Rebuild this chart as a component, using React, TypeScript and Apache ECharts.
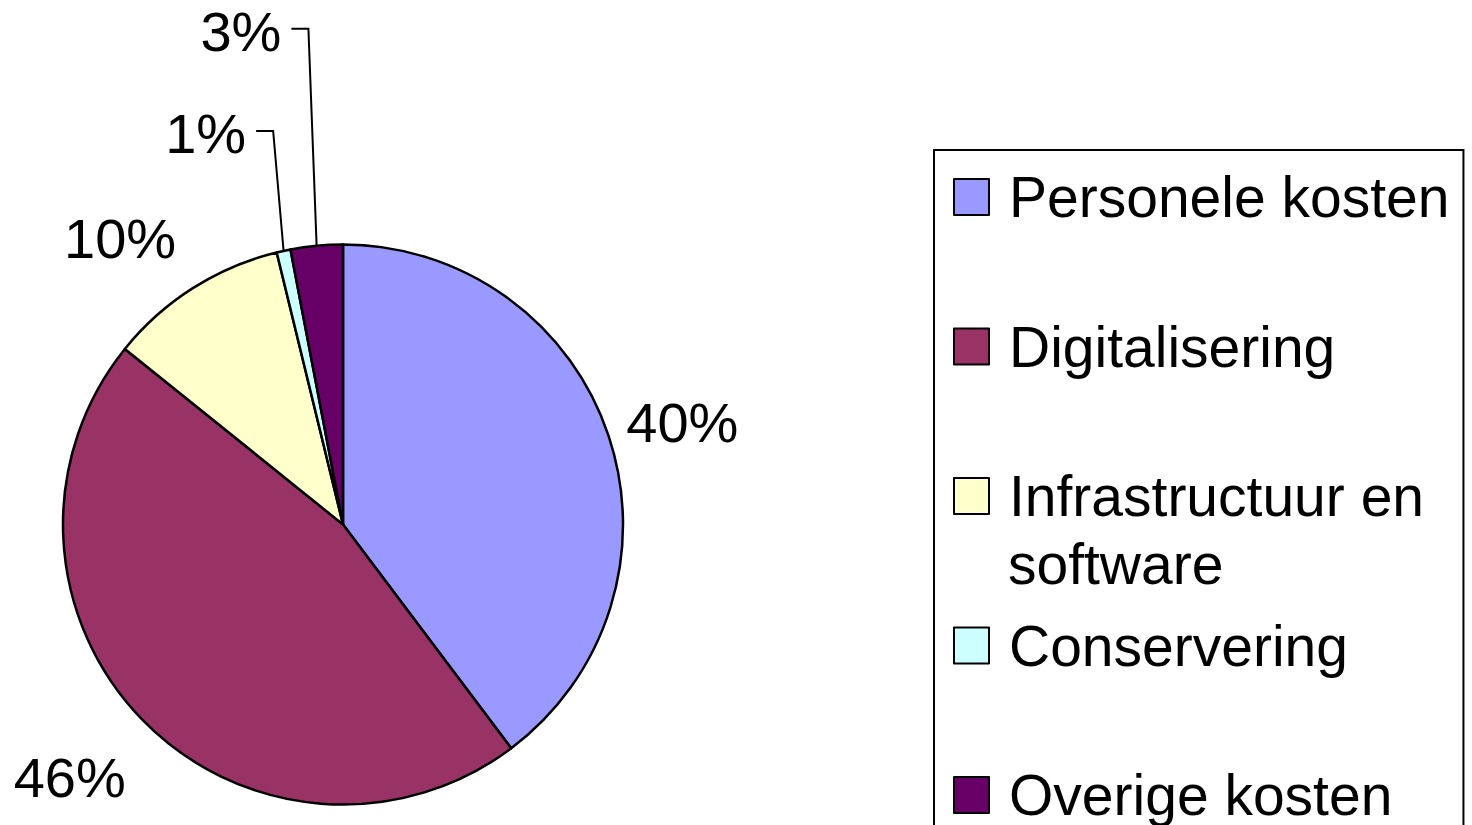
import React, { useEffect, useRef } from 'react';
import * as echarts from 'echarts';

const CATEGORIES = ['Personele kosten', 'Digitalisering', 'Infrastructuur en software', 'Conservering', 'Overige kosten'];
const VALUES = [39.7, 46.0, 10.4, 0.8, 3.0];
const COLORS = ['#9999FF', '#993366', '#FFFFCC', '#CCFFFF', '#660066'];
const LEGEND_LINES = ['Personele kosten', 'Digitalisering', 'Infrastructuur en', 'Conservering', 'Overige kosten'];
const LEGEND_SECOND_LINE = 'software';
// label placement tuning (labels only)
const LABEL_GAP = [21, 50, 45, 0, 0];
const LABEL_SHIFT = [2, -6, -22, 0, 0];
const LEADER_RISE = [0, 0, 0, 120, 217];

const FONT = 'Liberation Sans, Arial, Helvetica, sans-serif';

export default function App() {
  const ref = useRef<HTMLDivElement>(null);

  useEffect(() => {
    if (!ref.current) return;
    const chart = echarts.init(ref.current, undefined, { renderer: 'svg' });

    const data = CATEGORIES.map((name, i) => ({
      name,
      value: VALUES[i],
      itemStyle: { color: COLORS[i] },
      labelLine: LEADER_RISE[i] > 0 ? { show: true } : { show: true, lineStyle: { opacity: 0, width: 0 } },
    }));

    const option: any = {
      animation: false,
      backgroundColor: '#ffffff',
      legend: {
        orient: 'vertical',
        left: 934,
        top: 150,
        height: 720,
        padding: [17, 14, 17, 19],
        itemWidth: 35,
        itemHeight: 36,
        itemGap: 89.5,
        icon: 'rect',
        borderColor: '#000',
        borderWidth: 2,
        selectedMode: false,
        itemStyle: { borderColor: '#000', borderWidth: 2 },
        textStyle: {
          fontSize: 57,
          fontFamily: FONT,
          color: '#000',
          lineHeight: 60,
          padding: [0, 0, 0, 15],
        },
        formatter: (name: string) => LEGEND_LINES[CATEGORIES.indexOf(name)],
        data: CATEGORIES,
      },
      graphic: [
        {
          type: 'text',
          x: 1008,
          y: 564,
          style: {
            text: LEGEND_SECOND_LINE,
            fontSize: 57,
            fontFamily: FONT,
            fill: '#000',
            align: 'left',
            verticalAlign: 'middle',
          },
        },
      ],
      series: [
        {
          type: 'pie',
          center: [343, 524.5],
          radius: 280,
          startAngle: 90,
          clockwise: true,
          avoidLabelOverlap: false,
          minShowLabelAngle: 0,
          itemStyle: { borderColor: '#000', borderWidth: 2.5 },
          emphasis: { disabled: true },
          label: {
            show: true,
            position: 'outside',
            formatter: (p: any) => `${Math.round(p.percent)}%`,
            fontSize: 56,
            fontFamily: FONT,
            color: '#000',
          },
          labelLine: {
            show: true,
            length: 20,
            length2: 17,
            lineStyle: { color: '#000', width: 2 },
          },
          labelLayout: (p: any) => {
            const i = p.dataIndex;
            const pts = p.labelLinePoints;
            if (!pts) return {};
            const p0 = pts[0];
            const p1 = pts[1];
            let ux = p1[0] - p0[0];
            let uy = p1[1] - p0[1];
            const len = Math.hypot(ux, uy) || 1;
            ux /= len;
            uy /= len;
            if (LEADER_RISE[i] > 0) {
              const rise = LEADER_RISE[i];
              const q1 = [p0[0] + (ux / Math.abs(uy || 1)) * rise * 0.4, p0[1] - rise];
              const q2 = [q1[0] - 17, q1[1]];
              return {
                x: q2[0] - 10,
                y: q2[1] + 3,
                align: 'right',
                verticalAlign: 'middle',
                labelLinePoints: [p0, q1, q2],
              };
            }
            const w = p.labelRect.width;
            const h = p.labelRect.height;
            const g = LABEL_GAP[i];
            const t = LABEL_SHIFT[i];
            const nx = -uy;
            const ny = ux;
            return {
              x: p0[0] + ux * g + nx * t + (ux * w) / 2,
              y: p0[1] + uy * g + ny * t + (uy * h) / 2,
              align: 'center',
              verticalAlign: 'middle',
              labelLinePoints: [p0, p0, p0],
            };
          },
          data,
        },
      ],
    };

    chart.setOption(option);
    return () => chart.dispose();
  }, []);

  return (
    <div
      ref={ref}
      style={{ position: 'fixed', left: 0, top: 0, width: 1472, height: 825 }}
    />
  );
}
